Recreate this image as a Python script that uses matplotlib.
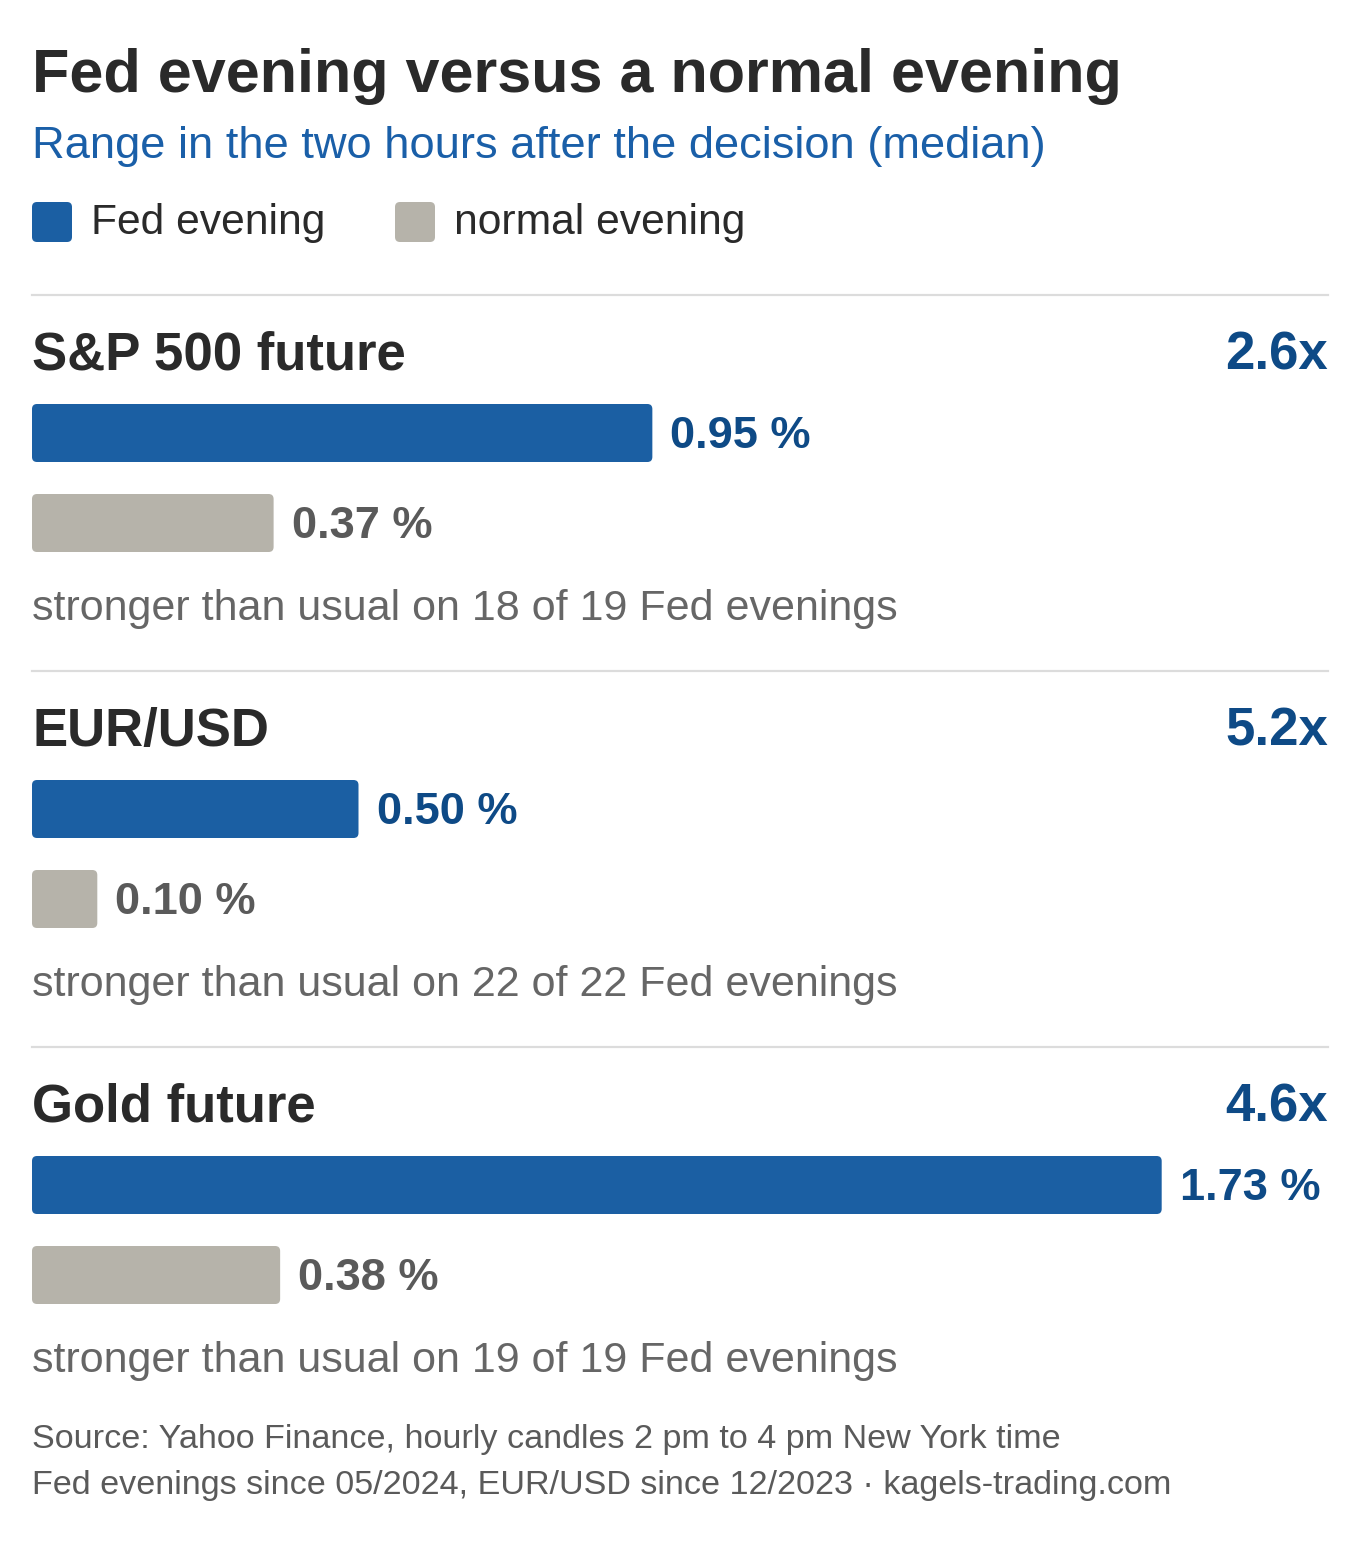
import matplotlib.pyplot as plt
from matplotlib.patches import FancyBboxPatch

plt.rcParams['font.family'] = ['Liberation Sans', 'DejaVu Sans']

# Daten
maerkte = ['S&P 500 future', 'EUR/USD', 'Gold future']
fed_abend = [0.95, 0.50, 1.73]
normal_abend = [0.37, 0.10, 0.38]
faktor = ['2.6x', '5.2x', '4.6x']
notizen = ['stronger than usual on 18 of 19 Fed evenings',
           'stronger than usual on 22 of 22 Fed evenings',
           'stronger than usual on 19 of 19 Fed evenings']

BLAU = '#1b5fa3'
BLAU_DUNKEL = '#0e4a86'
GRAU = '#b6b3aa'
GRAU_TEXT = '#5a5a5a'
DUNKEL = '#2a2a2a'

W, H = 1360, 1550
PX = 653.0          # Pixel pro Prozentpunkt
LINKS = 32

fig = plt.figure(figsize=(W / 100, H / 100), dpi=100)
ax = fig.add_axes([0, 0, 1, 1])
ax.set_xlim(-LINKS / PX, (W - LINKS) / PX)
ax.set_ylim(H, 0)
ax.axis('off')

x0 = 0
xr = (1328 - LINKS) / PX


def balken(y, wert, farbe):
    b = ax.barh(y, wert, height=58, left=0, color=farbe)[0]
    b.set_visible(False)
    p = FancyBboxPatch((b.get_x(), b.get_y()), b.get_width(), b.get_height(),
                       boxstyle='round,pad=0,rounding_size=%f' % (5 / PX),
                       mutation_aspect=PX, facecolor=farbe, edgecolor='none')
    ax.add_patch(p)
    return b


# Kopf
ax.text(x0, 92, 'Fed evening versus a normal evening', fontsize=44,
        fontweight='bold', color=DUNKEL, va='baseline')
ax.text(x0, 158, 'Range in the two hours after the decision (median)',
        fontsize=32.6, color='#1a5fa8', va='baseline')

# Legende
for xs, farbe, txt in [(32, BLAU, 'Fed evening'), (395, GRAU, 'normal evening')]:
    q = FancyBboxPatch(((xs - LINKS) / PX, 202), 40 / PX, 40,
                       boxstyle='round,pad=0,rounding_size=%f' % (5 / PX),
                       mutation_aspect=PX, facecolor=farbe, edgecolor='none')
    ax.add_patch(q)
    ax.text((xs + 59 - LINKS) / PX, 234, txt, fontsize=30.7, color=DUNKEL,
            va='baseline')

ax.plot([x0, xr], [295, 295], color='#dcdcdc', lw=1.6)

# Abschnitte
for i, name in enumerate(maerkte):
    dy = i * 376
    ax.text(x0, 370 + dy, name, fontsize=38, fontweight='bold', color=DUNKEL,
            va='baseline')
    ax.text(xr, 370 + dy, faktor[i], fontsize=38, fontweight='bold',
            color=BLAU_DUNKEL, va='baseline', ha='right')

    balken(433 + dy, fed_abend[i], BLAU)
    ax.text(fed_abend[i] + 18 / PX, 448 + dy, '%.2f %%' % fed_abend[i],
            fontsize=32.5, fontweight='bold', color=BLAU_DUNKEL, va='baseline')

    balken(523 + dy, normal_abend[i], GRAU)
    ax.text(normal_abend[i] + 18 / PX, 538 + dy, '%.2f %%' % normal_abend[i],
            fontsize=32.5, fontweight='bold', color=GRAU_TEXT, va='baseline')

    ax.text(x0, 620 + dy, notizen[i], fontsize=31, color='#666666',
            va='baseline')

    if i < len(maerkte) - 1:
        ax.plot([x0, xr], [671 + dy, 671 + dy], color='#dcdcdc', lw=1.6)

# Quelle
ax.text(x0, 1448, 'Source: Yahoo Finance, hourly candles 2 pm to 4 pm New York time',
        fontsize=24.6, color=GRAU_TEXT, va='baseline')
ax.text(x0, 1494, 'Fed evenings since 05/2024, EUR/USD since 12/2023 \u00b7 kagels-trading.com',
        fontsize=24.6, color=GRAU_TEXT, va='baseline')

fig.savefig('out.png', dpi=100, facecolor='white')
